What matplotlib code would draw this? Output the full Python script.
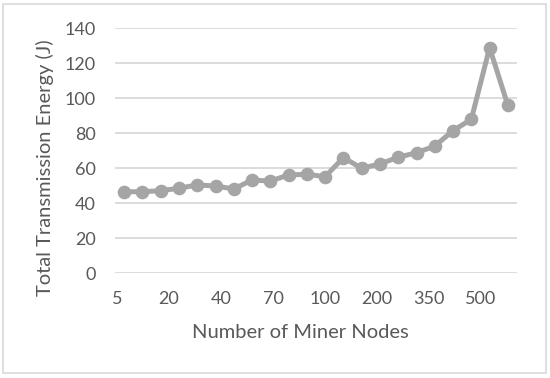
import numpy as np
import matplotlib
matplotlib.use("Agg")
import matplotlib.pyplot as plt
from matplotlib.patches import Rectangle

# miner node counts (x categories) and total transmission energy (J)
nodes = [5, 10, 15, 20, 25, 30, 40, 50, 60, 70, 80, 90,
         100, 125, 150, 200, 250, 300, 350, 400, 450, 500]
energy = [46.6, 46.6, 47.2, 48.6, 50.5, 49.9, 48.2, 53.3, 52.7, 56.2, 56.6, 55.2,
          66.1, 60.0, 62.5, 66.3, 68.9, 72.7, 81.5, 88.0, 128.9, 96.0]
shown_labels = ["5", "20", "40", "70", "100", "200", "350", "500"]
yticks = [0, 20, 40, 60, 80, 100, 120, 140]

plt.rcParams['font.family'] = ['Lato', 'DejaVu Sans']
txt = '#595959'

fig = plt.figure(figsize=(5.5, 3.78), dpi=100)
ax = fig.add_axes([115/550, 1-273.3/378, 402/550, 245/378])

x = np.arange(len(nodes))
ax.plot(x, energy, color='#A5A5A5', lw=3.6, marker='o', ms=8.8,
        markerfacecolor='#A5A5A5', markeredgecolor='#A5A5A5', zorder=3)

ax.set_xlim(-0.5, len(nodes) - 0.5)
ax.set_ylim(0, 140)
ax.set_yticks(yticks)
ax.yaxis.grid(True, color='#D9D9D9', lw=1.3)
ax.set_axisbelow(True)

# category labels, every third category (spacing as drawn in the original)
pos = [-0.39 + 2.846*k for k in range(len(shown_labels))]
ax.set_xticks(pos)
ax.set_xticklabels(shown_labels)

for s in ax.spines.values():
    s.set_visible(False)
ax.tick_params(length=0, labelsize=13, colors=txt)
ax.tick_params(axis='y', pad=14)
ax.tick_params(axis='x', pad=13)

fig.text(300/550, 1-332/378, 'Number of Miner Nodes', ha='center', va='center',
         fontsize=14.5, color=txt)
fig.text(45/550, 1-168/378, 'Total Transmission Energy (J)', ha='center', va='center',
         rotation=90, fontsize=14.5, color=txt)

fig.patches.append(Rectangle((3/550, 1-373/378), 543/550, 369/378,
                             transform=fig.transFigure, fill=False,
                             edgecolor='#D9D9D9', lw=1.2))

fig.savefig('out.png', dpi=100)
